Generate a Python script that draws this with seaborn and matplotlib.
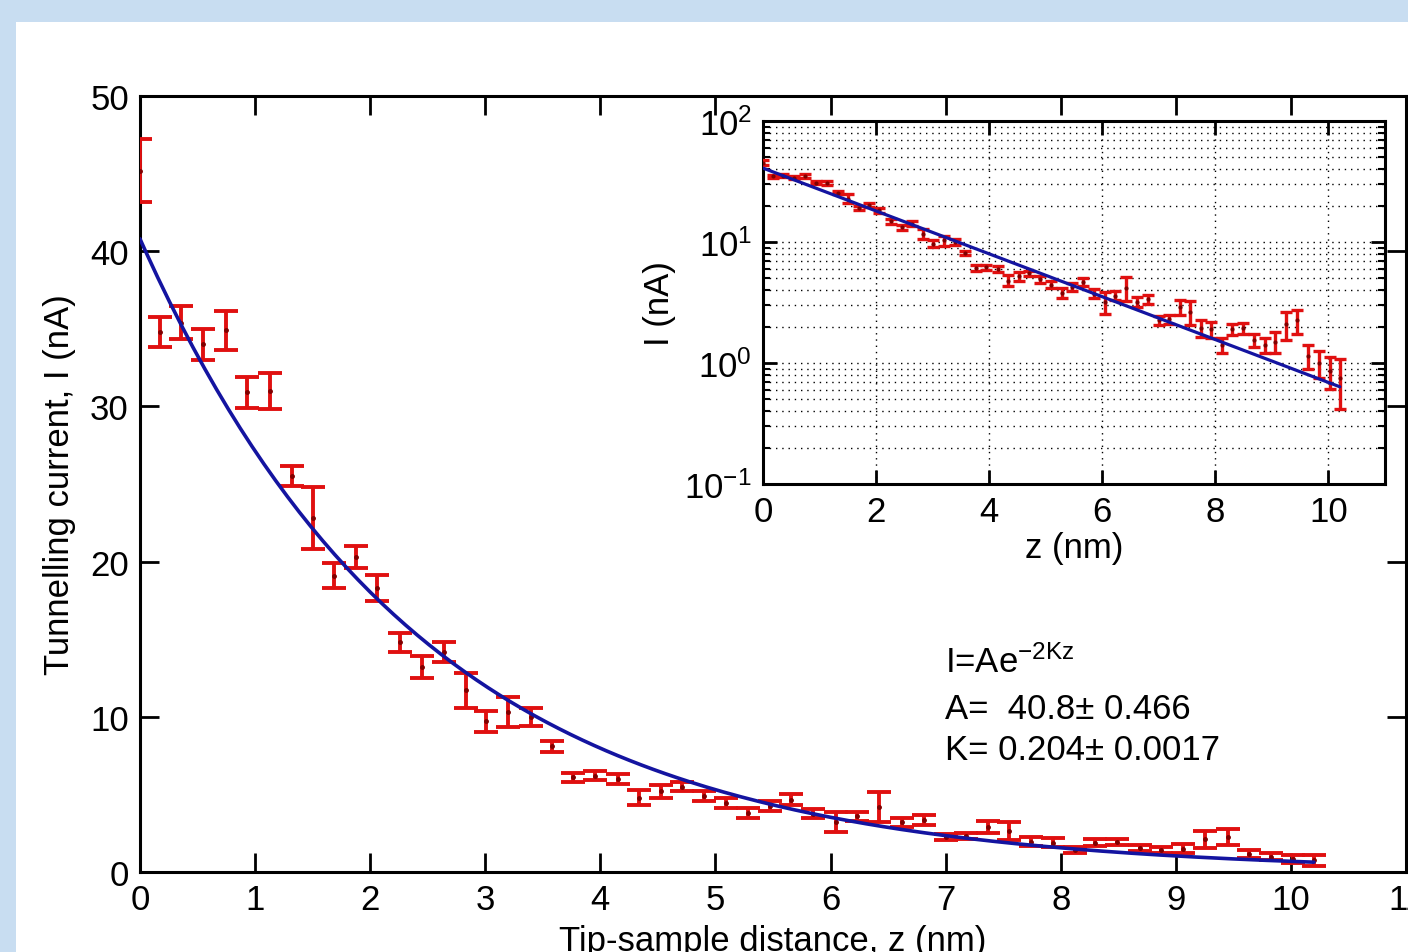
# STM tunnelling current vs tip-sample distance, exponential fit + log inset
import numpy as np
import pandas as pd
import seaborn as sns
import matplotlib.pyplot as plt
from matplotlib.patches import Rectangle
from matplotlib.ticker import LogLocator, FixedLocator, NullFormatter

# measured points (nm, nA) and their error half-widths
z_nm = [0.00, 0.17, 0.36, 0.55, 0.75, 0.93, 1.13, 1.32, 1.50, 1.69,
        1.88, 2.06, 2.26, 2.45, 2.64, 2.83, 3.01, 3.20, 3.40, 3.58,
        3.76, 3.95, 4.15, 4.34, 4.53, 4.71, 4.90, 5.09, 5.28, 5.47,
        5.66, 5.85, 6.05, 6.23, 6.42, 6.62, 6.81, 7.00, 7.18, 7.37,
        7.55, 7.74, 7.93, 8.12, 8.30, 8.49, 8.69, 8.87, 9.06, 9.25,
        9.45, 9.64, 9.83, 10.02, 10.20]
current_nA = [45.2, 34.8, 35.4, 34.0, 34.9, 30.9, 31.0, 25.5, 22.8, 19.1,
              20.3, 18.3, 14.8, 13.2, 14.2, 11.7, 9.7, 10.3, 10.0, 8.1,
              6.1, 6.2, 6.0, 4.8, 5.2, 5.5, 4.9, 4.45, 3.8, 4.25,
              4.65, 3.75, 3.2, 3.6, 4.2, 3.2, 3.35, 2.25, 2.3, 2.9,
              2.65, 1.95, 1.9, 1.4, 1.9, 1.95, 1.55, 1.4, 1.5, 2.1,
              2.25, 1.15, 1.0, 0.86, 0.75]
err_nA = [2.0, 0.95, 1.05, 1.0, 1.25, 1.0, 1.15, 0.65, 2.0, 0.8,
          0.7, 0.85, 0.6, 0.7, 0.65, 1.1, 0.65, 0.95, 0.6, 0.35,
          0.3, 0.3, 0.3, 0.5, 0.4, 0.3, 0.3, 0.3, 0.35, 0.3,
          0.35, 0.3, 0.65, 0.3, 0.95, 0.3, 0.3, 0.2, 0.2, 0.4,
          0.6, 0.3, 0.3, 0.2, 0.2, 0.2, 0.2, 0.2, 0.3, 0.55,
          0.5, 0.25, 0.25, 0.25, 0.33]

# fit parameters shown on the chart: I = A exp(-2Kz)
A_fit = 40.8
K_fit = 0.204

df = pd.DataFrame({'z': z_nm, 'I': current_nA, 'err': err_nA})
z_line = np.linspace(0, 10.2, 200)
fit_df = pd.DataFrame({'z': z_line, 'I': A_fit * np.exp(-2 * K_fit * z_line)})

sns.set_theme(style="ticks")
plt.rcParams['font.family'] = ['Liberation Sans', 'DejaVu Sans']
plt.rcParams['mathtext.fontset'] = 'custom'
plt.rcParams['mathtext.rm'] = 'Liberation Sans'
plt.rcParams['mathtext.it'] = 'Liberation Sans'
plt.rcParams['mathtext.bf'] = 'Liberation Sans'
plt.rcParams['axes.unicode_minus'] = False
plt.rcParams['text.color'] = 'black'
plt.rcParams['axes.labelcolor'] = 'black'
plt.rcParams['xtick.color'] = 'black'
plt.rcParams['ytick.color'] = 'black'

RED = '#e01010'
BLUE = '#1414a0'
FS = 25

fig = plt.figure(figsize=(14.08, 9.53), dpi=100, facecolor='#c8ddf1')
fig.patches.append(Rectangle((16 / 1408, 0), 1, 1 - 23 / 953, transform=fig.transFigure,
                             facecolor='white', edgecolor='none', zorder=-10))

# main axes
ax = fig.add_axes([0.0994, 0.0839, 0.8992, 0.8143])
ax.errorbar(df['z'], df['I'], yerr=df['err'], fmt='.', color=RED, ecolor=RED,
            mfc='#800000', mec='#800000', ms=5, elinewidth=2.8, capsize=8.5, capthick=2.8, zorder=3)
sns.lineplot(data=fit_df, x='z', y='I', ax=ax, color=BLUE, lw=2.6, zorder=4)
ax.set_xlim(0, 11)
ax.set_ylim(0, 50)
ax.set_xticks(range(0, 12))
ax.set_yticks(range(0, 51, 10))
ax.tick_params(direction='in', length=14, width=2, top=True, right=True, labelsize=FS, pad=8)
for s in ax.spines.values():
    s.set_linewidth(2.2)
    s.set_color('black')
ax.set_xlabel('Tip-sample distance, z (nm)', fontsize=FS, labelpad=6)
ax.set_ylabel('Tunnelling current, I (nA)', fontsize=FS, labelpad=10)
ax.text(0.636, 0.258, 'I=Ae$^{-2Kz}$', transform=ax.transAxes, fontsize=FS)
ax.text(0.636, 0.198, 'A=  40.8\u00b1 0.466', transform=ax.transAxes, fontsize=FS)
ax.text(0.636, 0.146, 'K= 0.204\u00b1 0.0017', transform=ax.transAxes, fontsize=FS)

# log inset
ins = fig.add_axes([0.5419, 0.4911, 0.4418, 0.3809])
ins.set_facecolor('white')
ins.errorbar(df['z'], df['I'], yerr=df['err'], fmt='.', color=RED, ecolor=RED,
             mfc='#800000', mec='#800000', ms=4, elinewidth=2.4, capsize=4.5, capthick=2.4, zorder=3)
sns.lineplot(data=fit_df, x='z', y='I', ax=ins, color=BLUE, lw=2.3, zorder=4)
ins.set_yscale('log')
ins.set_xlim(0, 11)
ins.set_ylim(0.1, 100)
ins.xaxis.set_major_locator(FixedLocator([0, 2, 4, 6, 8, 10]))
ins.yaxis.set_major_locator(LogLocator(base=10, numticks=10))
ins.yaxis.set_minor_locator(LogLocator(base=10, subs=np.arange(2, 10), numticks=10))
ins.yaxis.set_minor_formatter(NullFormatter())
ins.grid(True, which='major', color='black', linestyle=(0, (1, 3.5)), lw=1.0)
ins.grid(True, which='minor', axis='y', color='black', linestyle=(0, (1, 3.5)), lw=1.0)
ins.tick_params(which='major', direction='in', length=10, width=2, top=True, right=True,
                labelsize=FS, pad=8)
ins.tick_params(which='minor', direction='in', length=5, width=1.5, right=True)
for s in ins.spines.values():
    s.set_linewidth(2.2)
    s.set_color('black')
ins.set_xlabel('z (nm)', fontsize=FS, labelpad=2)
ins.set_ylabel('I (nA)', fontsize=FS, labelpad=6)

fig.savefig('out.png', dpi=100, facecolor=fig.get_facecolor())
